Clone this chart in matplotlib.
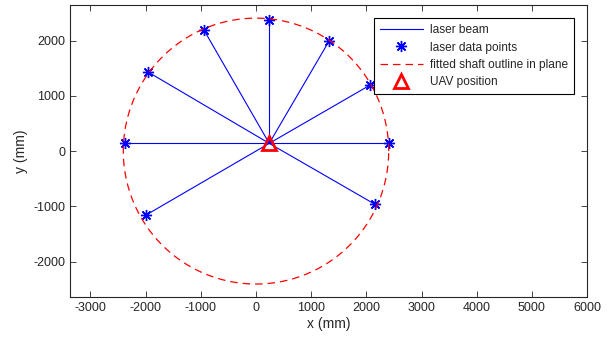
import matplotlib

matplotlib.use("Agg")
import matplotlib.pyplot as plt
import numpy as np

plt.rcParams["font.family"] = ["Liberation Sans", "DejaVu Sans"]
plt.rcParams["axes.unicode_minus"] = False

# UAV position and laser hits (mm)
uav_x, uav_y = 240, 140
pts_x = [240, 1330, 2060, 2415, 2160, -1990, -2375, -1955, -940]
pts_y = [2365, 2000, 1190, 140, -965, -1155, 140, 1430, 2185]

# fitted circle
circ_cx, circ_cy, circ_r = 0, 0, 2405

TXT = "#262626"

fig = plt.figure(figsize=(6.09, 3.43), dpi=100)
ax = fig.add_axes([0.115, 0.134, 0.849, 0.851])

for i, (px, py) in enumerate(zip(pts_x, pts_y)):
    ax.plot([uav_x, px], [uav_y, py], color="#0000ff", lw=0.8,
            label="laser beam" if i == 0 else None)
ax.plot(pts_x, pts_y, ls="none", marker=(8, 2, 0), color="#0000ff", ms=8,
        mew=1.0, label="laser data points")
t = np.linspace(0, 2 * np.pi, 400)
ax.plot(circ_cx + circ_r * np.cos(t), circ_cy + circ_r * np.sin(t),
        color="#ff0000", ls=(0, (6, 4)), lw=0.9,
        label="fitted shaft outline in plane")
ax.plot([uav_x], [uav_y], ls="none", marker="^", ms=10, mfc="none",
        mec="#ff0000", mew=2, label="UAV position")

ax.set_xlim(-3370, 6000)
ax.set_ylim(-2640, 2640)
ax.set_xticks(range(-3000, 6001, 1000))
ax.set_yticks(range(-2000, 2001, 1000))
ax.tick_params(direction="in", top=True, right=True, labelsize=9,
               colors=TXT, length=4, width=0.6)
for s in ax.spines.values():
    s.set_color(TXT)
    s.set_linewidth(0.8)
ax.set_xlabel("x (mm)", fontsize=10, color=TXT, labelpad=2)
ax.set_ylabel("y (mm)", fontsize=10, color=TXT, labelpad=4)

leg = ax.legend(loc="upper right", bbox_to_anchor=(0.975, 0.955),
                fontsize=8.6, handlelength=3.6, labelspacing=0.45,
                borderpad=0.5, handletextpad=0.6, fancybox=False,
                framealpha=1, edgecolor="black", borderaxespad=0)
leg.get_frame().set_linewidth(0.8)
for txt in leg.get_texts():
    txt.set_color(TXT)

fig.savefig("out.png", dpi=100)
